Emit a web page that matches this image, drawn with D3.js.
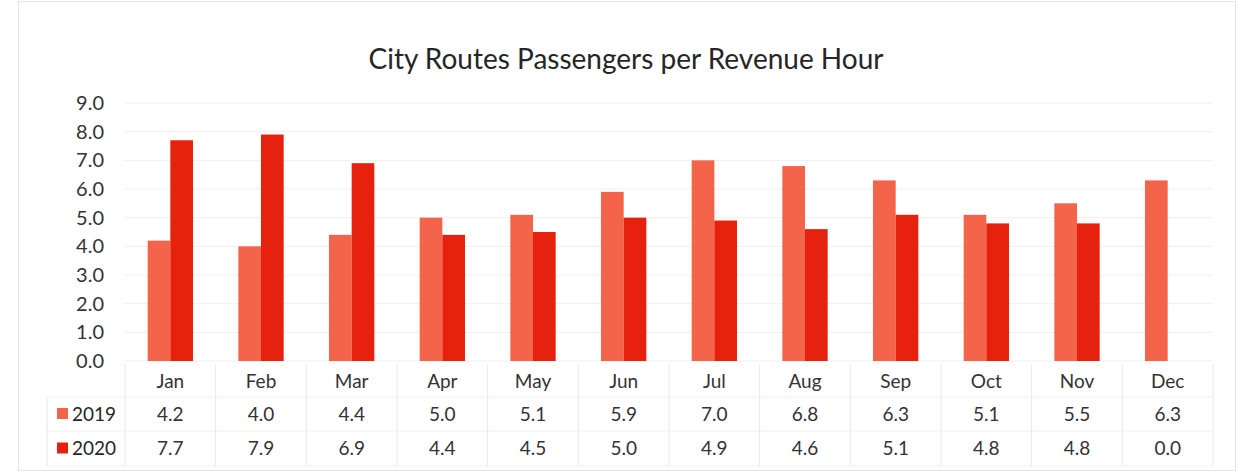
<!DOCTYPE html>
<html><head><meta charset="utf-8">
<script src="https://cdn.jsdelivr.net/npm/d3@7"></script>
<style>body{margin:0;background:#fff;}svg{display:block;}text{font-family:Lato,"Open Sans",sans-serif;}</style>
</head><body>
<svg id="c" width="1243" height="472"></svg>
<script>
const months = ["Jan","Feb","Mar","Apr","May","Jun","Jul","Aug","Sep","Oct","Nov","Dec"];
const seriesNames = ["2019","2020"];
const values2019 = [4.2,4.0,4.4,5.0,5.1,5.9,7.0,6.8,6.3,5.1,5.5,6.3];
const values2020 = [7.7,7.9,6.9,4.4,4.5,5.0,4.9,4.6,5.1,4.8,4.8,0.0];
const yTicks = [0,1,2,3,4,5,6,7,8,9];
const colors = ["#f3644a","#e6220e"];
const title = "City Routes Passengers per Revenue Hour";

const svg = d3.select("#c");
const seriesVals = [values2019, values2020];

// frame
svg.append("rect").attr("x",18.5).attr("y",1.5).attr("width",1217).attr("height",469)
  .attr("fill","none").attr("stroke","#e4e4e4");

svg.append("text").attr("x",626).attr("y",69).attr("text-anchor","middle")
  .attr("font-size",28).attr("fill","#262626").text(title);

const x = d3.scaleBand().domain(months).range([125,1213]).padding(0);
const y = d3.scaleLinear().domain([0,9]).range([361,103]);
const xs = d3.scaleBand().domain(seriesNames).range([0,x.bandwidth()]).paddingInner(0).paddingOuter(1);

// gridlines
svg.append("g").selectAll("line").data(yTicks).join("line")
  .attr("x1",125).attr("x2",1213).attr("y1",d=>y(d)).attr("y2",d=>y(d))
  .attr("stroke","#efefef").attr("stroke-width",1);

// y axis
const yAxis = d3.axisLeft(y).tickValues(yTicks).tickFormat(d3.format(".1f")).tickSize(0).tickPadding(0);
const ya = svg.append("g").attr("transform","translate(104,0)").call(yAxis);
ya.select(".domain").remove();
ya.selectAll("text").attr("font-size",20).attr("fill","#333").attr("font-family","Lato,'Open Sans',sans-serif");

// bars
seriesNames.forEach((s,si)=>{
  svg.append("g").selectAll("rect").data(months).join("rect")
    .attr("x",m=>x(m)+xs(s))
    .attr("width",xs.bandwidth())
    .attr("y",(m,i)=>y(seriesVals[si][i]))
    .attr("height",(m,i)=>y(0)-y(seriesVals[si][i]))
    .attr("fill",colors[si]);
});

// data table
const rowTop = [364,397,431,466];
const tg = svg.append("g");
const vx = [47].concat(months.map(m=>x(m))).concat([x.range()[1]]);
tg.selectAll("line.v").data(vx).join("line").attr("class","v")
  .attr("x1",d=>d).attr("x2",d=>d)
  .attr("y1",(d,i)=>i===0?rowTop[1]:rowTop[0]).attr("y2",rowTop[3])
  .attr("stroke","#e8e8e8");
[rowTop[1],rowTop[2],rowTop[3]].forEach(yy=>{
  tg.append("line").attr("x1",47).attr("x2",1213).attr("y1",yy).attr("y2",yy).attr("stroke","#efefef");
});
const xAxis = d3.axisBottom(x).tickSize(0).tickPadding(0);
const xa = svg.append("g").attr("transform","translate(0,381)").call(xAxis);
xa.select(".domain").remove();
xa.selectAll("text").attr("font-size",19).attr("fill","#333").attr("dy","0.35em").attr("font-family","Lato,'Open Sans',sans-serif");

seriesNames.forEach((s,si)=>{
  const cy = (rowTop[si+1]+rowTop[si+2])/2;
  tg.append("rect").attr("x",57).attr("y",cy-6).attr("width",11).attr("height",11).attr("fill",colors[si]);
  tg.append("text").attr("x",72).attr("y",cy).attr("dy","0.35em").attr("font-size",19).attr("fill","#262626").text(s);
  tg.append("g").selectAll("text").data(months).join("text")
    .attr("x",m=>x(m)+x.bandwidth()/2).attr("y",cy).attr("dy","0.35em")
    .attr("text-anchor","middle").attr("font-size",19).attr("fill","#333")
    .text((m,i)=>d3.format(".1f")(seriesVals[si][i]));
});
</script>
</body></html>
